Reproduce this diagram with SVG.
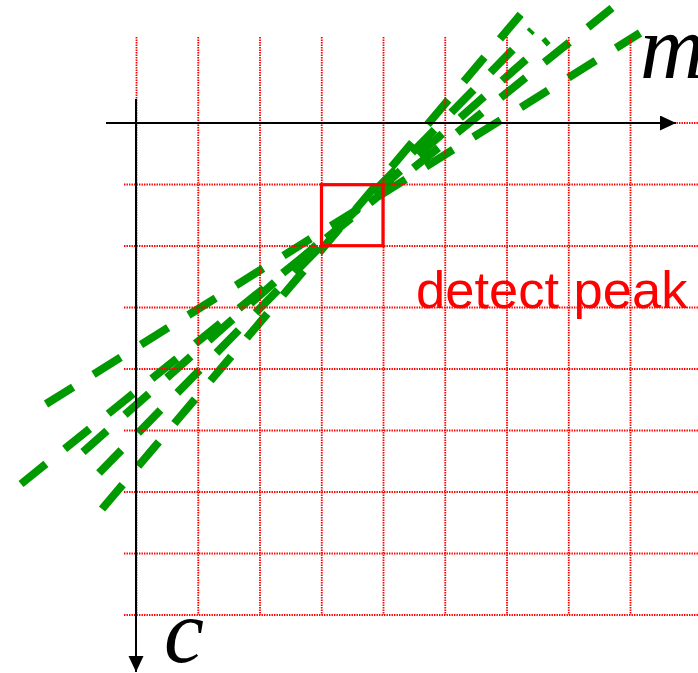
<svg xmlns="http://www.w3.org/2000/svg" width="698" height="673" viewBox="0 0 698 673">
<defs>
<style>
.grid{stroke:#ff0000;stroke-width:1.8;stroke-dasharray:1.4 1.1;fill:none}
.vote{stroke:#009900;stroke-width:8;stroke-dasharray:32 24;stroke-linecap:butt;fill:none}
.axis{stroke:#000;stroke-width:2;fill:none}
.lbl{font-family:"Liberation Serif","Times New Roman",serif;font-style:italic;font-size:90px;fill:#000}
</style>
<marker id="arr" markerUnits="userSpaceOnUse" markerWidth="17" markerHeight="16" refX="16" refY="7.5" orient="auto">
<path d="M0,0 L16,7.5 L0,15 z" fill="#000"/>
</marker>
</defs>
<rect width="698" height="673" fill="#fff"/>
<g id="votes">
<line class="vote" x1="21" y1="484" x2="612" y2="8"/>
<line class="vote" x1="46" y1="404" x2="640" y2="33"/>
<line class="vote" x1="83" y1="452" x2="548" y2="40"/>
<line class="vote" x1="99" y1="473" x2="532" y2="30"/>
<line class="vote" x1="102" y1="509" x2="521" y2="14"/>
</g>
<g id="grid">
<path class="grid" d="M136.5,37V615M198.25,37V615M260,37V615M321.75,37V615M383.5,37V615M445.25,37V615M507,37V615M568.75,37V615M630.5,37V615"/>
<path class="grid" d="M124,123H698M124,184.5H698M124,246H698M124,307.5H698M124,369H698M124,430.5H698M124,492H698M124,553.5H698M124,615H698"/>
</g>
<g id="axes">
<line class="axis" x1="106" y1="123" x2="676" y2="123" marker-end="url(#arr)"/>
<line class="axis" x1="136" y1="99" x2="136" y2="672" marker-end="url(#arr)"/>
</g>
<g id="peak">
<rect x="321.5" y="184.7" width="61.5" height="61" fill="none" stroke="#ff0000" stroke-width="3.2"/>
<text x="416" y="308" font-family="'Liberation Sans',Arial,sans-serif" font-size="52.5" fill="#ff0000">detect peak</text>
</g>
<g id="labels">
<text class="lbl" x="640" y="78">m</text>
<text class="lbl" x="164" y="662">c</text>
</g>
</svg>
